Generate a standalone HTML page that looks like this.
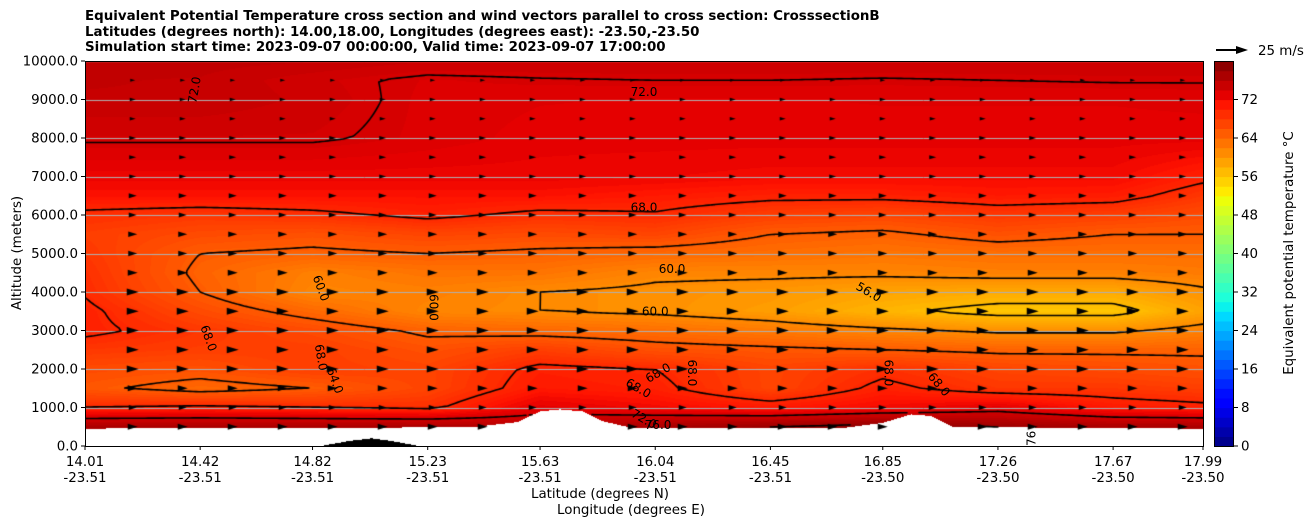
<!DOCTYPE html>
<html><head><meta charset="utf-8">
<style>
body{margin:0;background:#fff;width:1308px;height:526px;overflow:hidden;font-family:"DejaVu Sans","Liberation Sans",sans-serif;}
#root{position:relative;width:1308px;height:526px;}
.t{position:absolute;font-size:13.4px;color:#000;white-space:nowrap;}
</style></head><body>
<div id="root">
<div class="t" style="left:85px;top:9px;font-weight:bold;line-height:15.5px;">Equivalent Potential Temperature cross section and wind vectors parallel to cross section: CrosssectionB<br>Latitudes (degrees north): 14.00,18.00, Longitudes (degrees east): -23.50,-23.50<br>Simulation start time: 2023-09-07 00:00:00, Valid time: 2023-09-07 17:00:00</div>
<canvas id="cv" width="1118" height="385" style="position:absolute;left:85px;top:61px;"></canvas>
<svg id="sv" width="1308" height="526" style="position:absolute;left:0;top:0;"></svg>
</div>
<script>
const lats=[14.01,14.42,14.82,15.23,15.63,16.04,16.45,16.85,17.26,17.67,17.99];
const alts=[500,1000,1500,2000,2500,3000,3500,4000,4500,5000,5500,6000,6500,7000,8000,9000,9500,10000];
const field=[
[75,75,75,75,74,75,76,77,76,75,75],
[68,68.5,68,67.5,71,70,69,70,71,69,68.5],
[64.5,63,64,66,69,68.5,66,68.5,67,67,66.5],
[65.5,65,66.5,66,68.5,68,66,67.5,66,65.5,65],
[67,66.5,66.5,65,66.5,65,64.5,64,63.5,63.5,63.5],
[68.5,67,65.5,63.5,63,62.5,61.5,60.5,59.5,59.5,61],
[68.5,65.5,63,60.5,60,59.5,58.5,56.5,55,55,58],
[67.8,64,60.5,61,60,59.5,59,58,57.5,57.5,59.5],
[67.5,63.5,61,62,62,60.5,60.5,60.5,61,61,61.5],
[67,64,63.5,64,63.5,63,62.5,62,62.5,62.5,62.5],
[66.5,65.5,65,66,65.5,66,64,63.5,65,64,64],
[67.5,67,67.5,68.5,67.5,67.8,66.5,66,67,66.5,65.5],
[69.5,69.5,69.5,69.5,69.5,69,68.5,68.5,69,68.8,67],
[70.5,70.5,70.5,70.5,70.5,70.3,70,70,70,70,68.5],
[72.2,72.2,72.2,71.6,71,71,71,71,71,71,71],
[73.2,73.2,72.6,71.6,71.3,71.2,71.2,71.3,71.3,71.3,71.4],
[73.3,73.2,72.4,71.7,71.9,72.0,72.0,71.9,72.0,72.1,72.1],
[73.5,73.5,73.3,72.8,72.8,72.8,72.8,72.8,72.8,72.8,72.8]];
const terrainLat=[14.01,14.5,15.0,15.4,15.55,15.63,15.7,15.78,15.85,15.95,16.4,16.7,16.85,16.95,17.02,17.1,17.4,17.99];
const terrainAlt=[450,480,470,500,620,900,950,900,650,480,480,460,600,820,780,500,480,450];
const groundLat=[14.85,14.95,15.03,15.1,15.2];
const groundAlt=[0,130,200,130,0];
const windAlts=[500,1000,1500,2000,2500,3000,3500,4000,4500,5000,5500,6000,6500,7000,7500,8000,8500,9000,9500];
const windSpeed=[10,8,10,12,12,12,12,12,10,9,9,8,8,7,7,7,6,6,5];
const levels=[56,60,64,68,72,76];
const yTicks=[0,1000,2000,3000,4000,5000,6000,7000,8000,9000,10000];
const xTickLat=[14.01,14.42,14.82,15.23,15.63,16.04,16.45,16.85,17.26,17.67,17.99];
const xTickLon=["-23.51","-23.51","-23.51","-23.51","-23.51","-23.51","-23.51","-23.50","-23.50","-23.50","-23.50"];
const cbTicks=[0,8,16,24,32,40,48,56,64,72];
const labels=[[14.4,9250,"72.0",-80],[16.0,9200,"72.0",0],[16.0,6200,"68.0",0],[16.1,4600,"60.0",0],[16.04,3500,"60.0",0],[14.85,4100,"60.0",70],[15.25,3600,"60.0",90],[14.45,2800,"68.0",70],[14.85,2300,"68.0",80],[14.9,1700,"64.0",70],[16.8,4000,"56.0",30],[16.05,1900,"68.0",-30],[15.98,1500,"68.0",30],[16.17,1900,"68.0",90],[16.87,1900,"68.0",90],[17.05,1600,"68.0",50],[16.0,700,"72.0",30],[16.05,550,"76.0",0],[17.38,200,"76",-90]];

const X0=85,X1=1203,Y0=61,Y1=446,LAT0=14.01,LAT1=17.99;
const xs=l=>X0+(l-LAT0)/(LAT1-LAT0)*(X1-X0);
const ys=a=>Y1-a/10000*(Y1-Y0);
function lerpArr(xa,ya,x){if(x<=xa[0])return ya[0];for(let i=0;i<xa.length-1;i++){if(x<=xa[i+1]){const f=(x-xa[i])/(xa[i+1]-xa[i]);return ya[i]+f*(ya[i+1]-ya[i]);}}return ya[ya.length-1];}
function seg(arr,v){if(v<=arr[0])return[0,0];for(let i=0;i<arr.length-1;i++)if(v<=arr[i+1])return[i,(v-arr[i])/(arr[i+1]-arr[i])];return[arr.length-2,1];}
function F(lat,alt){const[i,fx]=seg(lats,lat);const[j,fy]=seg(alts,alt);
const a=field[j][i],b=field[j][i+1],c=field[j+1][i],d=field[j+1][i+1];
return (a*(1-fx)+b*fx)*(1-fy)+(c*(1-fx)+d*fx)*fy;}
const R=[[0,0],[0.35,0],[0.66,1],[0.89,1],[1,0.5]],G=[[0,0],[0.125,0],[0.375,1],[0.64,1],[0.91,0],[1,0]],B=[[0,0.5],[0.11,1],[0.34,1],[0.65,0],[1,0]];
function ch(s,x){return lerpArr(s.map(p=>p[0]),s.map(p=>p[1]),x);}
function jet(x){x=Math.max(0,Math.min(1,x));return[ch(R,x)*255,ch(G,x)*255,ch(B,x)*255];}
function colT(t){let off=t>=70?2:(t>=66?1+(t-66)*0.25:1);return t+off;}
const cv=document.getElementById('cv'),ctx=cv.getContext('2d');
const W=1118,H=385,img=ctx.createImageData(W,H);
const pl=px=>LAT0+(px+0.5)/W*(LAT1-LAT0), pa=py=>(H-py-0.5)/H*10000;
for(let py=0;py<H;py++){const alt=pa(py);for(let px=0;px<W;px++){const lat=pl(px);let k=(py*W+px)*4;
let col;const ta=lerpArr(terrainLat,terrainAlt,lat);
if(alt<ta){const ga=(lat>groundLat[0]&&lat<groundLat[groundLat.length-1])?lerpArr(groundLat,groundAlt,lat):0;col=alt<ga?[0,0,0]:[255,255,255];}
else{let t=colT(F(lat,alt));t=Math.round(t*2)/2;col=jet(t/80);}
img.data[k]=col[0];img.data[k+1]=col[1];img.data[k+2]=col[2];img.data[k+3]=255;}}
ctx.putImageData(img,0,0);
ctx.strokeStyle='#b0b0b0';ctx.lineWidth=1;
yTicks.forEach(a=>{const y=Math.round(ys(a)-Y0)+0.5;ctx.beginPath();ctx.moveTo(0,y);ctx.lineTo(W,y);ctx.stroke();});
const S=3,nx=Math.ceil(W/S)+1,ny=Math.ceil(H/S)+1;const gv=[],gm=[];
for(let j=0;j<ny;j++){gv[j]=[];gm[j]=[];for(let i=0;i<nx;i++){const px=i*S,py=j*S;const lat=LAT0+px/W*(LAT1-LAT0),alt=(H-py)/H*10000;gv[j][i]=F(lat,alt);gm[j][i]=alt>=lerpArr(terrainLat,terrainAlt,lat);}}
ctx.strokeStyle='#000';ctx.lineWidth=1.6;ctx.lineCap='round';
levels.forEach(L=>{ctx.beginPath();
for(let j=0;j<ny-1;j++)for(let i=0;i<nx-1;i++){
if(!(gm[j][i]&&gm[j][i+1]&&gm[j+1][i]&&gm[j+1][i+1]))continue;
const v=[gv[j][i],gv[j][i+1],gv[j+1][i+1],gv[j+1][i]];const p=[[i*S,j*S],[(i+1)*S,j*S],[(i+1)*S,(j+1)*S],[i*S,(j+1)*S]];
const pts=[];for(let e=0;e<4;e++){const a=v[e],b=v[(e+1)%4];if((a<L)!==(b<L)){const f=(L-a)/(b-a);const A=p[e],Bp=p[(e+1)%4];pts.push([A[0]+f*(Bp[0]-A[0]),A[1]+f*(Bp[1]-A[1])]);}}
for(let q=0;q+1<pts.length;q+=2){ctx.moveTo(pts[q][0],pts[q][1]);ctx.lineTo(pts[q+1][0],pts[q+1][1]);}}
ctx.stroke();});
ctx.fillStyle='#000';
windAlts.forEach((a,r)=>{const L=windSpeed[r];for(let k=0;k<22;k++){const lat=14.18+k*0.178;if(a<lerpArr(terrainLat,terrainAlt,lat)-150)continue;const x=xs(lat)-X0,y=ys(a)-Y0;
ctx.beginPath();ctx.moveTo(x+L*0.5,y);ctx.lineTo(x-L*0.5,y-L*0.3);ctx.lineTo(x-L*0.5,y+L*0.3);ctx.closePath();ctx.fill();}});

const NS='http://www.w3.org/2000/svg',sv=document.getElementById('sv');
function el(tag,at,txt){const e=document.createElementNS(NS,tag);for(const k in at)e.setAttribute(k,at[k]);if(txt!==undefined)e.textContent=txt;sv.appendChild(e);return e;}
let e;
labels.forEach(l=>{const x=xs(l[0]),y=ys(l[1]);
e=el('text',{x:x,y:y+4,'font-size':12,'text-anchor':'middle',transform:`rotate(${l[3]} ${x} ${y})`},l[2]);

});
e=el('rect',{x:X0+0.5,y:Y0+0.5,width:X1-X0,height:Y1-Y0,fill:'none',stroke:'#000','stroke-width':1});


yTicks.forEach(a=>{const y=ys(a);el('line',{x1:X0-4,x2:X0,y1:y,y2:y,stroke:'#000'});
e=el('text',{x:X0-7,y:y+4.5,'font-size':13.4,'text-anchor':'end'},a.toFixed(1));

});
xTickLat.forEach((l,i)=>{const x=xs(l);el('line',{x1:x,x2:x,y1:Y1,y2:Y1+4,stroke:'#000'});
e=el('text',{x:x,y:466,'font-size':13.4,'text-anchor':'middle'},l.toFixed(2));


e=el('text',{x:x,y:482,'font-size':13.4,'text-anchor':'middle'},xTickLon[i]);

});
e=el('text',{x:600,y:498,'font-size':13.4,'text-anchor':'middle'},'Latitude (degrees N)');


e=el('text',{x:631,y:514,'font-size':13.4,'text-anchor':'middle'},'Longitude (degrees E)');


e=el('text',{x:21,y:253,'font-size':13.4,'text-anchor':'middle',transform:'rotate(-90 21 253)'},'Altitude (meters)');


const CB0=1214,CB1=1234,cys=v=>Y1-v/80*(Y1-Y0);
for(let v=0;v<80;v+=2){e=el('rect',{x:CB0,y:cys(v+2),width:CB1-CB0,height:cys(v)-cys(v+2)+0.6,fill:'rgb('+jet((v+1)/80).map(Math.round).join(',')+')'});

}
el('rect',{x:CB0+0.5,y:Y0+0.5,width:CB1-CB0-1,height:Y1-Y0,fill:'none',stroke:'#000'});
cbTicks.forEach(v=>{const y=cys(v);el('line',{x1:CB1,x2:CB1+4,y1:y,y2:y,stroke:'#000'});
e=el('text',{x:CB1+7,y:y+4.5,'font-size':13.4},String(v));

});
e=el('text',{x:1293,y:253,'font-size':13.4,'text-anchor':'middle',transform:'rotate(-90 1293 253)'},'Equivalent potential temperature \u00B0C');


el('line',{x1:1216,x2:1240,y1:50,y2:50,stroke:'#000','stroke-width':2});
e=el('polygon',{points:'1248,50 1236,46 1236,54',fill:'#000'});


e=el('text',{x:1258,y:55,'font-size':13.4},'25 m/s');


</script>
</body></html>
